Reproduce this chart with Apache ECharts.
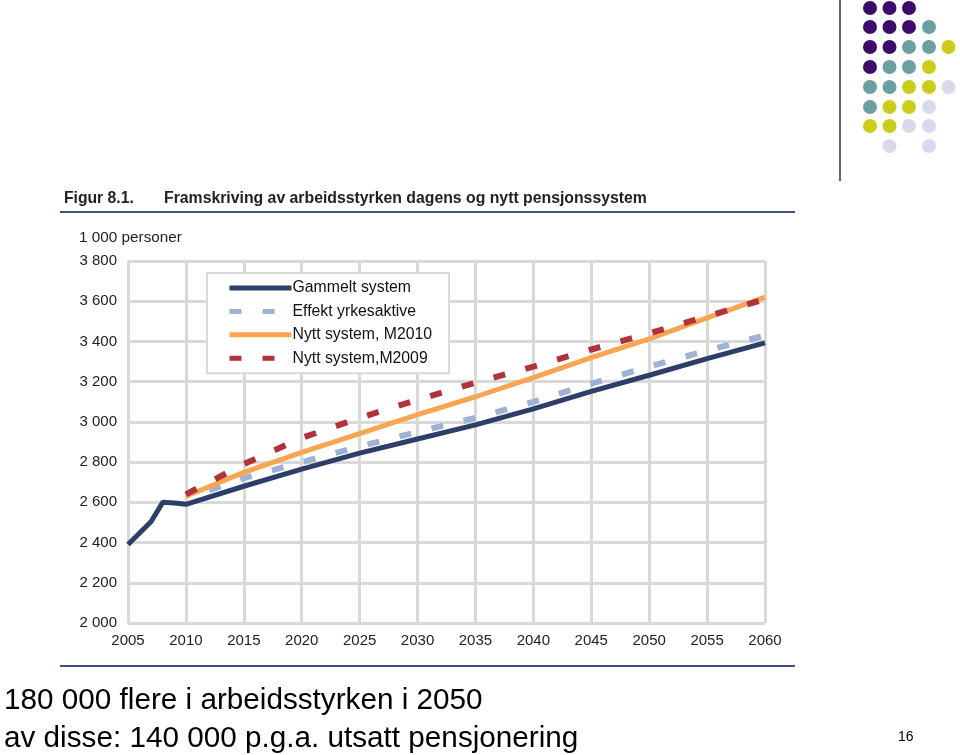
<!DOCTYPE html>
<html><head><meta charset="utf-8">
<script src="https://cdn.jsdelivr.net/npm/echarts@6/dist/echarts.min.js"></script>
<style>html,body{margin:0;padding:0;background:#fff}#c{width:960px;height:755px}</style>
</head><body><div id="c"></div>
<script>
const yearsOld = [2005,2006,2007,2008,2009,2010,2015,2020,2025,2030,2035,2040,2045,2050,2055,2060];
const gammelt  = [2390,2448,2505,2600,2597,2590,2680,2765,2845,2915,2985,3065,3152,3232,3315,3393];
const yearsEff = [2012,2015,2020,2025,2030,2035,2040,2045,2050,2055,2060];
const effekt   = [2660,2720,2800,2878,2950,3020,3100,3190,3275,3355,3430];
const yearsNew = [2010,2015,2020,2025,2030,2035,2040,2045,2050,2055,2060];
const m2010    = [2630,2749,2848,2942,3036,3125,3220,3319,3413,3517,3620];
const m2009    = [2640,2790,2920,3020,3110,3195,3275,3360,3440,3525,3610];
const seriesNames = ['Gammelt system','Effekt yrkesaktive','Nytt system, M2010','Nytt system,M2009'];

const pair = (xs, ys) => xs.map((x,i)=>[x, ys[i]]);
const fmt = v => String(v).replace(/\B(?=(\d{3})+(?!\d))/g,' ');
const FONT = 'Arial, "Liberation Sans", sans-serif';

// decoration dots
const P='#3b0c6a', T='#6c9fa0', Y='#cccc1c', L='#d9d9ec';
const dotRows = [
  [P,P,P,null,null],
  [P,P,P,T,null],
  [P,P,T,T,Y],
  [P,T,T,Y,null],
  [T,T,Y,Y,L],
  [T,Y,Y,L,null],
  [Y,Y,L,L,null],
  [null,L,null,L,null]
];
const dotX=[870,889.5,909,929,948.5], dotY=[8,27,47,67,87,107,126,146];
const graphics = [];
dotRows.forEach((row,r)=>row.forEach((c,k)=>{ if(c) graphics.push({type:'circle',shape:{cx:dotX[k],cy:dotY[r],r:7},style:{fill:c},silent:true}); }));
graphics.push({type:'line',shape:{x1:840,y1:0,x2:840,y2:181},style:{stroke:'#333',lineWidth:1.5}});
graphics.push({type:'line',shape:{x1:60,y1:212,x2:795,y2:212},style:{stroke:'#3e5080',lineWidth:2}});
graphics.push({type:'line',shape:{x1:60,y1:666,x2:795,y2:666},style:{stroke:'#3e5080',lineWidth:2}});
graphics.push({type:'text',style:{text:'Figur 8.1.',x:64,y:199,font:'bold 15.7px '+FONT,fill:'#222',textVerticalAlign:'middle'}});
graphics.push({type:'text',style:{text:'Framskriving av arbeidsstyrken dagens og nytt pensjonssystem',x:164,y:199,font:'bold 15.8px '+FONT,fill:'#222',textVerticalAlign:'middle'}});
graphics.push({type:'text',style:{text:'1 000 personer',x:79,y:238,font:'15.3px '+FONT,fill:'#222',textVerticalAlign:'middle'}});
graphics.push({type:'text',style:{text:'180 000 flere i arbeidsstyrken i 2050',x:4,y:701,font:'29.7px '+FONT,fill:'#000',textVerticalAlign:'middle'}});
graphics.push({type:'text',style:{text:'av disse: 140 000 p.g.a. utsatt pensjonering',x:4,y:739,font:'29.7px '+FONT,fill:'#000',textVerticalAlign:'middle'}});
graphics.push({type:'text',style:{text:'16',x:898,y:737,font:'14px '+FONT,fill:'#000',textVerticalAlign:'middle'}});

const chart = echarts.init(document.getElementById('c'));
chart.setOption({
  backgroundColor:'#fff',
  animation:false,
  grid:{left:128,right:195,top:261,bottom:132},
  xAxis:{type:'value',min:2005,max:2060,interval:5,
    axisLine:{show:false},axisTick:{show:false},
    axisLabel:{color:'#222',fontSize:15,fontFamily:FONT,margin:10,formatter:v=>String(v)},
    splitLine:{show:true,lineStyle:{color:'#d9d9d9',width:3}}},
  yAxis:{type:'value',min:2000,max:3800,interval:200,
    axisLine:{show:false},axisTick:{show:false},
    axisLabel:{color:'#222',fontSize:15,fontFamily:FONT,margin:11,formatter:fmt},
    splitLine:{show:true,lineStyle:{color:'#d9d9d9',width:3}}},
  legend:{orient:'vertical',left:207,top:273,
    backgroundColor:'#fff',borderColor:'#d9d9d9',borderWidth:2,
    padding:[7,17,7,20],itemGap:7.4,itemWidth:62,itemHeight:15,
    itemStyle:{opacity:0},
    lineStyle:{width:5,type:'inherit'},
    textStyle:{fontSize:15.8,fontFamily:FONT,color:'#111',padding:[0,0,0,-4]},
    data:seriesNames},
  series:[
    {name:seriesNames[0],type:'line',data:pair(yearsOld,gammelt),symbol:'none',z:4,
      lineStyle:{color:'#2d3e68',width:5},itemStyle:{color:'#2d3e68'}},
    {name:seriesNames[1],type:'line',data:pair(yearsEff,effekt),symbol:'none',z:3,
      lineStyle:{color:'#9fb2d6',width:6,type:[12,21]},itemStyle:{color:'#9fb2d6'}},
    {name:seriesNames[2],type:'line',data:pair(yearsNew,m2010),symbol:'none',z:5,
      lineStyle:{color:'#f9a552',width:5},itemStyle:{color:'#f9a552'}},
    {name:seriesNames[3],type:'line',data:pair(yearsNew,m2009),symbol:'none',z:6,
      lineStyle:{color:'#b0323a',width:6,type:[12,21]},itemStyle:{color:'#b0323a'}}
  ],
  graphic:graphics
});
</script></body></html>
